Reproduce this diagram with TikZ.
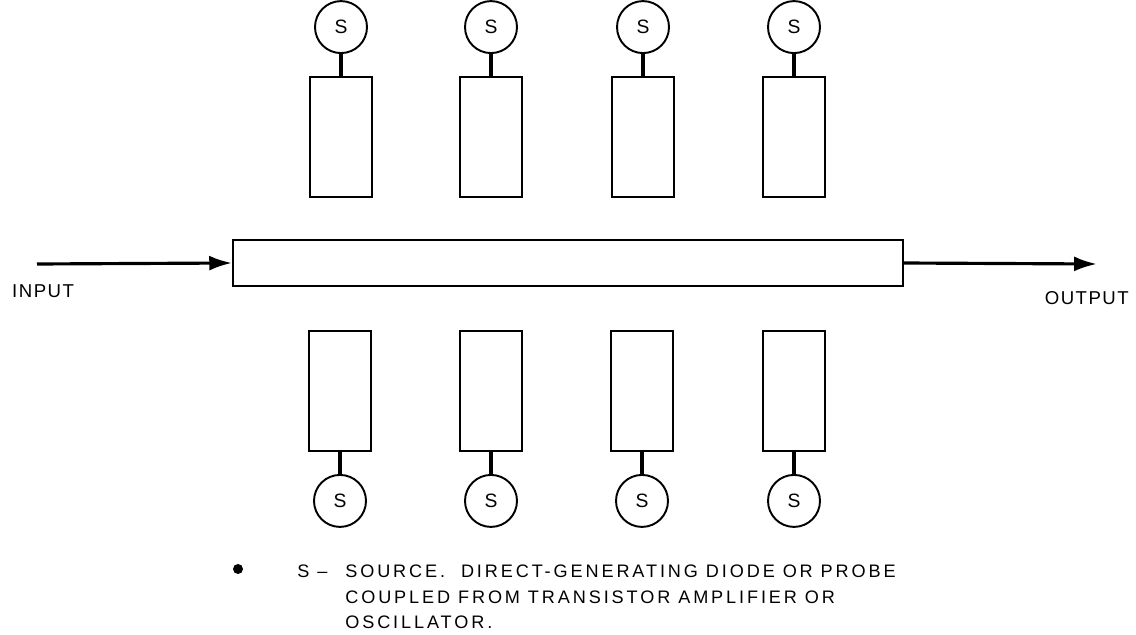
\documentclass[tikz,border=0pt]{standalone}
\usepackage{fontspec}
\setmainfont{Liberation Sans}
\usepackage{tikz}
\usetikzlibrary{positioning, arrows.meta}
\tikzset{
  stub/.style={
    draw, rectangle, line width=1.1pt,
    minimum width=1.24cm, minimum height=2.4cm, inner sep=0pt
  },
  source/.style={
    circle, draw, line width=1.1pt, minimum size=1.04cm,
    inner sep=0pt, font=\fontsize{11}{12}\selectfont
  },
  guide/.style={
    draw, rectangle, line width=1.1pt,
    minimum width=13.4cm, minimum height=0.92cm, inner sep=0pt
  },
  feed/.style={line width=2.2pt},
  signal/.style={line width=1.8pt, -{Latex[length=13pt,width=8.5pt]}},
  caption/.style={font=\fontsize{10.6}{11.9}\selectfont\addfontfeatures{LetterSpace=8}},
  keytext/.style={font=\fontsize{10.3}{14.5}\selectfont\addfontfeatures{LetterSpace=16}},
}

\begin{document}
\begin{tikzpicture}[x=0.02cm, y=-0.02cm, node distance=0.44cm]
  \useasboundingbox (0,0) rectangle (1136,635);

  % main line
  \node[guide] (G) at (568,263) {};
  \coordinate (In) at (37,264);
  \coordinate (Out) at (1097,264);
  \draw[signal] (In) -- (G.west);
  \draw[signal] (G.east) -- (Out);
  \node[caption, anchor=west] (inlbl) at (6,291) {INPUT};
  \node[caption, anchor=east] (outlbl) at (1135,298) {OUTPUT};

  % upper row
  \node[stub] (T1) at (341,137) {};
  \node[stub] (T2) at (491,137) {};
  \node[stub] (T3) at (643,137) {};
  \node[stub] (T4) at (794,137) {};
  \node[source, above=of T1] (ST1) {S};
  \node[source, above=of T2] (ST2) {S};
  \node[source, above=of T3] (ST3) {S};
  \node[source, above=of T4] (ST4) {S};
  \draw[feed] (ST1) -- (T1);
  \draw[feed] (ST2) -- (T2);
  \draw[feed] (ST3) -- (T3);
  \draw[feed] (ST4) -- (T4);

  % lower row
  \node[stub] (B1) at (340,391) {};
  \node[stub] (B2) at (491,391) {};
  \node[stub] (B3) at (642,391) {};
  \node[stub] (B4) at (794,391) {};
  \node[source, below=of B1] (SB1) {S};
  \node[source, below=of B2] (SB2) {S};
  \node[source, below=of B3] (SB3) {S};
  \node[source, below=of B4] (SB4) {S};
  \draw[feed] (B1) -- (SB1);
  \draw[feed] (B2) -- (SB2);
  \draw[feed] (B3) -- (SB3);
  \draw[feed] (B4) -- (SB4);

  % legend
  \node[circle, fill, minimum size=0.2cm, inner sep=0pt] (dot) at (238,569) {};
  \node[keytext, anchor=north west, align=left, inner sep=0pt] (key) at (297,565)
    {\makebox[0.96cm][l]{S --}SOURCE.\ \ DIRECT-GENERATING DIODE OR PROBE\\
     \hspace*{0.96cm}COUPLED FROM TRANSISTOR AMPLIFIER OR\\
     \hspace*{0.96cm}OSCILLATOR.};
\end{tikzpicture}
\end{document}
